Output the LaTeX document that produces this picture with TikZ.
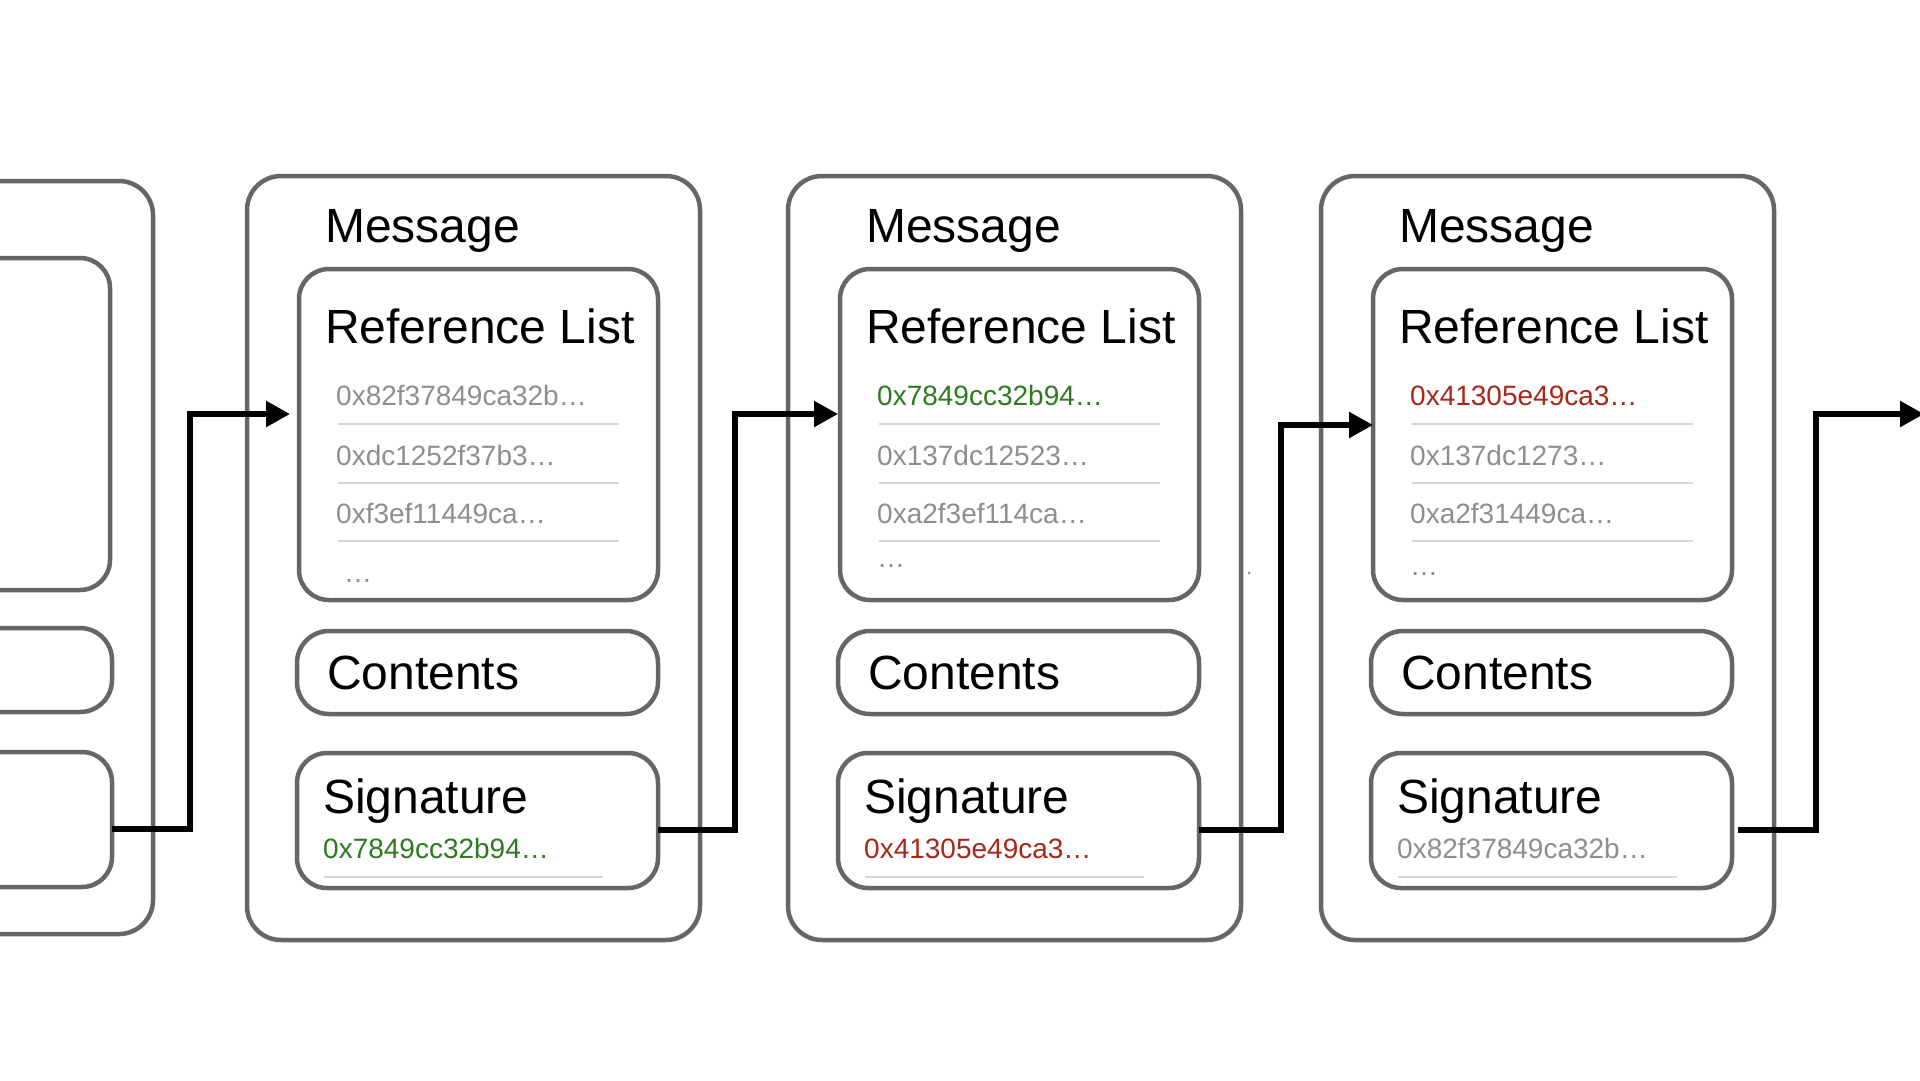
\documentclass[tikz,border=0pt]{standalone}
\usepackage{fontspec}
\setmainfont{Liberation Sans}
\usetikzlibrary{arrows.meta}
\definecolor{boxgray}{HTML}{666666}
\definecolor{hashgray}{HTML}{8E8E8E}
\definecolor{sepgray}{HTML}{D6D6D6}
\definecolor{hashgreen}{HTML}{2E7A1E}
\definecolor{hashred}{HTML}{A8271A}
\newcommand\MsgBox[8]{%
  \node[outerbox, minimum width=453pt, minimum height=764pt] (#1m) at (247,176) {};
  \node[lbl] (#1mt) at (325,242) {Message};
  \node[innerbox, minimum width=359pt, minimum height=331pt] (#1r) at (299,269) {};
  \node[lbl] (#1rt) at (325,343) {Reference List};
  \node[hash, text=#2] (#1h1) at (336,405) {#3};
  \draw[sepline] (338,424) -- (619,424);
  \node[hash] (#1h2) at (336,465) {#4};
  \draw[sepline] (338,483) -- (619,483);
  \node[hash] (#1h3) at (336,523) {#5};
  \draw[sepline] (338,541) -- (619,541);
  \node[hash] (#1h4) at (#8) {…};
  \node[innerbox, minimum width=361pt, minimum height=83pt, rounded corners=32pt] (#1c) at (297,631) {};
  \node[lbl] (#1ct) at (327,689) {Contents};
  \node[innerbox, minimum width=361pt, minimum height=135pt] (#1s) at (297,753) {};
  \node[lbl] (#1st) at (323,813) {Signature};
  \node[hash, text=#6] (#1sh) at (323,858) {#7};
  \draw[sepline] (324,877) -- (603,877);
}
\begin{document}
\begin{tikzpicture}[x=1pt,y=-1pt,
  outerbox/.style={draw=boxgray, line width=4.5pt, rounded corners=34pt, anchor=north west, inner sep=0pt, outer sep=0pt},
  innerbox/.style={draw=boxgray, line width=4.5pt, rounded corners=30pt, anchor=north west, inner sep=0pt, outer sep=0pt},
  lbl/.style={anchor=base west, inner sep=0pt, font=\fontsize{48}{57}\selectfont, text=black},
  hash/.style={anchor=base west, inner sep=0pt, font=\fontsize{28}{33}\selectfont, text=hashgray},
  sepline/.style={draw=sepgray, line width=2pt},
  conn/.style={draw=black, line width=5.5pt, -{Triangle[length=24pt,width=25pt]}}]
\useasboundingbox[fill=white] (0,0) rectangle (1920,1080);

% left partial message box
\node[outerbox, minimum width=213pt, minimum height=753pt] (Lm) at (-60,181) {};
\node[innerbox, minimum width=170pt, minimum height=332pt] (Lr) at (-60,258) {};
\node[innerbox, minimum width=172pt, minimum height=84pt, rounded corners=32pt] (Lc) at (-60,628) {};
\node[innerbox, minimum width=172pt, minimum height=135pt] (Ls) at (-60,752) {};

\MsgBox{A}{hashgray}{0x82f37849ca32b…}{0xdc1252f37b3…}{0xf3ef11449ca…}{hashgreen}{0x7849cc32b94…}{344,582}
\begin{scope}[xshift=541pt]
\MsgBox{B}{hashgreen}{0x7849cc32b94…}{0x137dc12523…}{0xa2f3ef114ca…}{hashred}{0x41305e49ca3…}{336,567}
\end{scope}
\begin{scope}[xshift=1074pt]
\MsgBox{C}{hashred}{0x41305e49ca3…}{0x137dc1273…}{0xa2f31449ca…}{hashgray}{0x82f37849ca32b…}{336,575}
\end{scope}

\fill[hashgray] (1249,573) circle (1.5pt);

\coordinate (k0) at (190,414);
\coordinate (k1) at (735,414);
\coordinate (k2) at (1281,425);
\coordinate (k3) at (1816,414);
\coordinate (outend) at (1924,414);

\draw[conn, shorten >=9pt] ([yshift=-9.5pt]Ls.east) -| (k0) -- ([yshift=20.5pt]Ar.west);
\draw[conn, shorten >=2pt] ([yshift=-9.5pt]As.east) -| (k1) -- ([yshift=20.5pt]Br.west);
\draw[conn] ([yshift=-9.5pt]Bs.east) -| (k2) -- ([yshift=9.5pt]Cr.west);
\draw[conn, shorten <=6pt] ([yshift=-9.5pt]Cs.east) -| (k3) -- (outend);
\end{tikzpicture}
\end{document}
